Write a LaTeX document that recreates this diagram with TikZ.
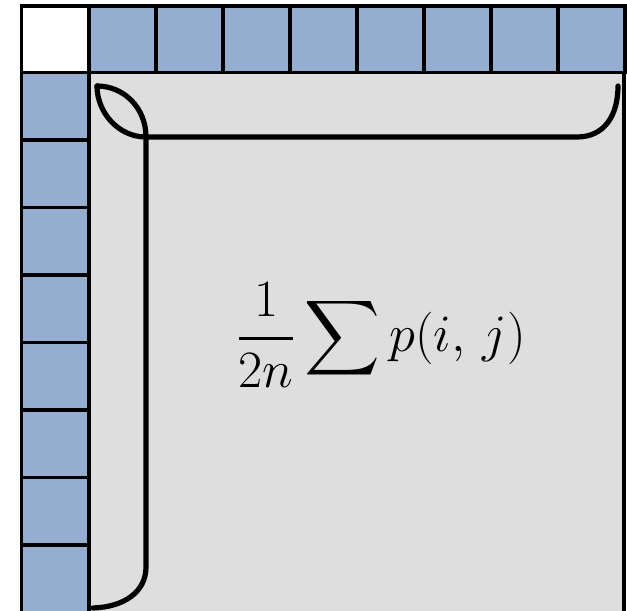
\documentclass[tikz,border=0pt]{standalone}
\usepackage{amsmath}
\usepackage{tikz}
\definecolor{cellblue}{RGB}{149,174,207}
\definecolor{matgray}{RGB}{222,222,222}

\begin{document}
\begin{tikzpicture}[x=0.025cm, y=-0.025cm,
			cell/.style={draw=black, fill=cellblue, line width=2.7pt},
			brace/.style={draw=black, line width=3.7pt, line cap=round},
			font=\Huge]
			%Bildbereich
			\useasboundingbox (0,0) rectangle (627,611);
			\clip (0,0) rectangle (627,611);
			%graue Flaeche
			\fill[matgray] (89,72.5) rectangle (624,614);
			% obere Zeile
			\draw[line width=2.7pt, fill=white] (21.5,6) rectangle (89,72.5);
			\foreach \i in {0,...,7} \draw[cell] ({89+\i*67},6) rectangle ({156+\i*67},72.5);
			% linke Spalte
			\foreach \j in {0,...,7} \draw[cell] (21.5,{72.5+\j*67.5}) rectangle (89,{140+\j*67.5});
			% Rand rechts
			\draw[line width=2.7pt] (624,72.5) -- (624,614);
			%Klammern zeichnen
			\draw[brace] (97,86) .. controls (97,112) and (118,137) .. (146,137) -- (577,137) .. controls (604,137) and (618,116) .. (618,86);
			\draw[brace] (97,86) .. controls (124,86) and (146,108) .. (146,137) -- (146,567) .. controls (146,592) and (124,607) .. (93,608);
			%Formel
			\node[scale=1.5] (formel) at (381,335) {$\displaystyle\frac{1}{2n}\sum p(i,\,j)$};
		\end{tikzpicture}
\end{document}
